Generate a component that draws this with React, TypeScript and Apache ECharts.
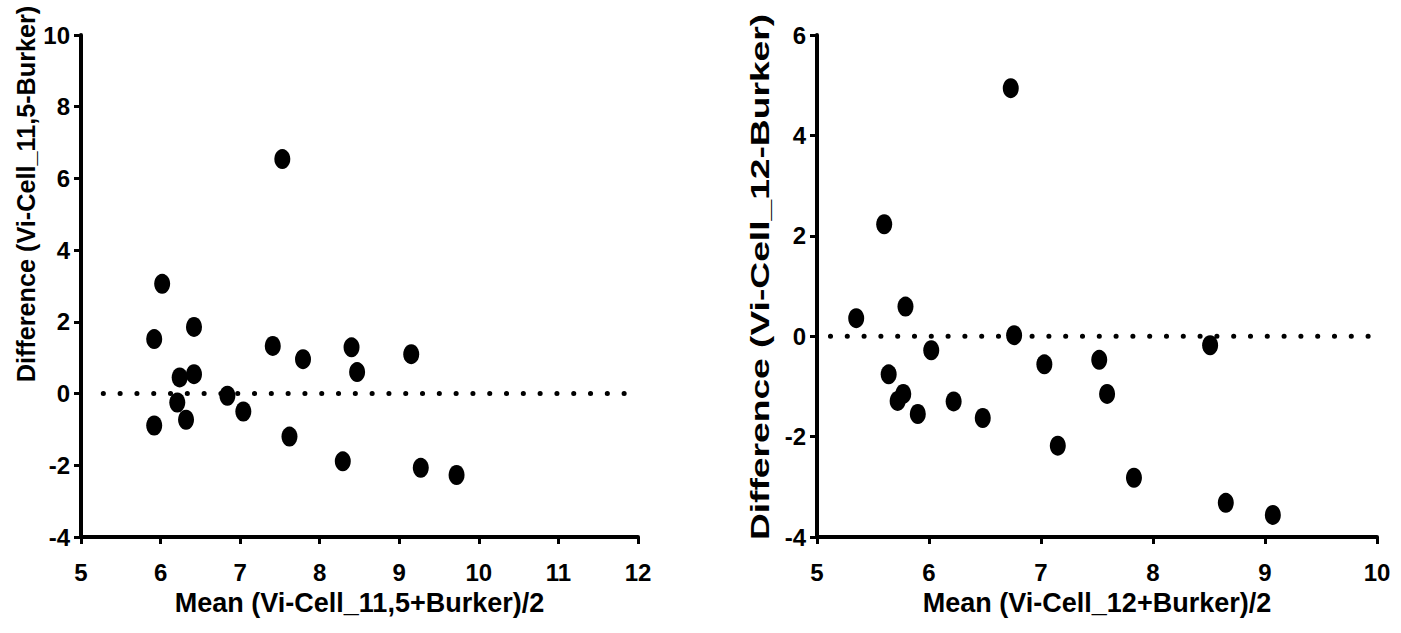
import React, { useEffect, useRef } from "react";
import * as echarts from "echarts";

// Left panel: Vi-Cell_11,5 vs Burker
const leftMean = [7.53, 6.02, 5.92, 6.42, 7.41, 7.79, 8.40, 9.15, 8.47, 6.24, 6.42, 6.84, 6.21, 7.04, 5.92, 6.32, 7.62, 8.29, 9.27, 9.72];
const leftDiff = [6.54, 3.06, 1.52, 1.86, 1.33, 0.96, 1.29, 1.10, 0.60, 0.45, 0.54, -0.06, -0.25, -0.50, -0.89, -0.73, -1.20, -1.89, -2.07, -2.27];

// Right panel: Vi-Cell_12 vs Burker
const rightMean = [6.73, 5.60, 5.35, 5.79, 6.76, 6.02, 5.64, 5.77, 5.72, 5.90, 6.22, 6.48, 7.03, 7.52, 7.59, 7.15, 7.83, 8.51, 8.65, 9.07];
const rightDiff = [4.94, 2.23, 0.36, 0.59, 0.02, -0.28, -0.76, -1.15, -1.29, -1.55, -1.30, -1.63, -0.56, -0.47, -1.15, -2.18, -2.82, -0.18, -3.32, -3.56];

const leftXTitle = "Mean (Vi-Cell_11,5+Burker)/2";
const leftYTitle = "Difference (Vi-Cell_11,5-Burker)";
const rightXTitle = "Mean (Vi-Cell_12+Burker)/2";
const rightYTitle = "Difference (Vi-Cell_12-Burker)";

const leftXRange = [5, 12];
const leftYRange = [-4, 10];
const rightXRange = [5, 10];
const rightYRange = [-4, 6];

const leftZeroLine = [[5.28, 0], [11.9, 0]];
const rightZeroLine = [[5.12, 0], [9.98, 0]];

const FONT = "'Liberation Sans', Arial, Helvetica, sans-serif";

function axisCommon() {
  return {
    axisLine: { show: true, onZero: false, lineStyle: { color: "#000", width: 4 } },
    axisTick: { show: true, length: 7, lineStyle: { color: "#000", width: 3 } },
    splitLine: { show: false },
  };
}

export default function App() {
  const ref = useRef<HTMLDivElement>(null);

  useEffect(() => {
    if (!ref.current) return;
    const chart = echarts.init(ref.current, null, { renderer: "svg" });

    const xAxisBase = (gridIndex: number, range: number[], name: string) => ({
      type: "value",
      gridIndex,
      min: range[0],
      max: range[1],
      interval: 1,
      name,
      nameLocation: "middle",
      nameGap: 52,
      nameTextStyle: { color: "#000", fontSize: 27, fontWeight: "bold", fontFamily: FONT },
      axisLabel: { color: "#000", fontSize: 24, fontWeight: "bold", fontFamily: FONT, margin: 23 },
      ...axisCommon(),
    });
    const yAxisBase = (gridIndex: number, range: number[]) => ({
      type: "value",
      gridIndex,
      min: range[0],
      max: range[1],
      interval: 2,
      axisLabel: { color: "#000", fontSize: 24, fontWeight: "bold", fontFamily: FONT, margin: 11 },
      ...axisCommon(),
    });

    const dotted = {
      color: "#000",
      width: 5,
      type: [0.1, 16.7],
      cap: "round",
    };

    const option: any = {
      animation: false,
      backgroundColor: "#fff",
      grid: [
        { left: 81, top: 35, width: 557, height: 502 },
        { left: 817, top: 35, width: 560, height: 502 },
      ],
      xAxis: [xAxisBase(0, leftXRange, leftXTitle), xAxisBase(1, rightXRange, rightXTitle)],
      yAxis: [yAxisBase(0, leftYRange), yAxisBase(1, rightYRange)],
      graphic: [
        {
          type: "text",
          x: 26,
          y: 194,
          rotation: Math.PI / 2,
          scaleX: 0.97,
          style: {
            text: leftYTitle,
            fill: "#000",
            fontSize: 26,
            fontWeight: "bold",
            fontFamily: FONT,
            align: "center",
            verticalAlign: "middle",
          },
        },
        {
          type: "text",
          x: 760,
          y: 277,
          rotation: Math.PI / 2,
          scaleX: 1.43,
          style: {
            text: rightYTitle,
            fill: "#000",
            fontSize: 26,
            fontWeight: "bold",
            fontFamily: FONT,
            align: "center",
            verticalAlign: "middle",
          },
        },
      ],
      series: [
        {
          type: "line",
          xAxisIndex: 0,
          yAxisIndex: 0,
          data: leftZeroLine,
          symbol: "none",
          lineStyle: dotted,
          silent: true,
          z: 1,
        },
        {
          type: "line",
          xAxisIndex: 1,
          yAxisIndex: 1,
          data: rightZeroLine,
          symbol: "none",
          lineStyle: dotted,
          silent: true,
          z: 1,
        },
        {
          type: "scatter",
          xAxisIndex: 0,
          yAxisIndex: 0,
          symbol: "circle",
          symbolSize: [16, 20],
          itemStyle: { color: "#000", opacity: 1 },
          data: leftMean.map((m, i) => [m, leftDiff[i]]),
          z: 3,
        },
        {
          type: "scatter",
          xAxisIndex: 1,
          yAxisIndex: 1,
          symbol: "circle",
          symbolSize: [16, 20],
          itemStyle: { color: "#000", opacity: 1 },
          data: rightMean.map((m, i) => [m, rightDiff[i]]),
          z: 3,
        },
      ],
    };

    chart.setOption(option);
    return () => chart.dispose();
  }, []);

  return (
    <div
      ref={ref}
      style={{ position: "fixed", left: 0, top: 0, width: 1401, height: 633, background: "#fff" }}
    />
  );
}
